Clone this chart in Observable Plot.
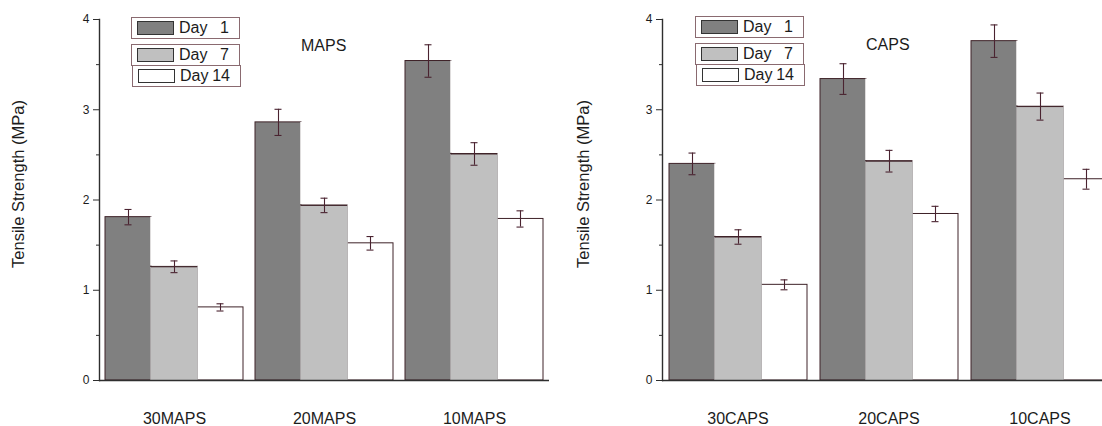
<!DOCTYPE html>
<html>
<head>
<meta charset="utf-8">
<script src="https://cdn.jsdelivr.net/npm/d3@7"></script>
<script src="https://cdn.jsdelivr.net/npm/@observablehq/plot@0.6"></script>
<style>
  body { margin: 0; background: #fff; }
  #wrap { position: relative; width: 1102px; height: 426px; overflow: hidden;
          font-family: "Liberation Sans", Arial, sans-serif; color: #1c1c1c; }
  .panel { position: absolute; top: 0; }
  .ylab { position: absolute; font-size: 16.5px; white-space: nowrap; line-height: 17px;
          transform: translate(-50%, -50%) rotate(-90deg); }
  .title { position: absolute; font-size: 16px; line-height: 16px; }
  .lg { position: absolute; width: 109px; height: 22px; box-sizing: border-box;
        border: 1px solid #8a6a70; background: #fff; }
  .sw { position: absolute; left: 5px; top: 3px; width: 37px; height: 14px;
        box-sizing: border-box; border: 1.5px solid #333; }
  .lt { position: absolute; left: 47px; top: 2px; font-size: 16px; line-height: 16px; }
  .ln { position: absolute; right: 10px; top: 2px; font-size: 16px; line-height: 16px; }
</style>
</head>
<body>
<div id="wrap"></div>
<script>
// ---- data ----
const days = ["Day 1", "Day 7", "Day 14"];
const mapsGroups = ["30MAPS", "20MAPS", "10MAPS"];
const capsGroups = ["30CAPS", "20CAPS", "10CAPS"];

const mapsDay1 = [1.81, 2.86, 3.54];
const mapsDay7 = [1.26, 1.94, 2.51];
const mapsDay14 = [0.81, 1.52, 1.79];
const mapsErr1 = [0.085, 0.145, 0.18];
const mapsErr7 = [0.065, 0.08, 0.125];
const mapsErr14 = [0.04, 0.075, 0.09];

const capsDay1 = [2.40, 3.34, 3.76];
const capsDay7 = [1.59, 2.43, 3.035];
const capsDay14 = [1.06, 1.845, 2.23];
const capsErr1 = [0.12, 0.17, 0.18];
const capsErr7 = [0.08, 0.12, 0.15];
const capsErr14 = [0.055, 0.085, 0.11];

const yTicks = [0, 1, 2, 3, 4];
const yMinorTicks = [0.5, 1.5, 2.5, 3.5];
const yLabel = "Tensile Strength (MPa)";

// ---- styles ----
const fills = ["#808080", "#c0c0c0", "#ffffff"];
const outline = "#3e2228";
const errColor = "#4a2330";
const axisColor = "#2e2e2e";

function panel(groups, vals, errs, marginLeft, width) {
  const rows = [];
  groups.forEach((g, i) => days.forEach((d, k) =>
    rows.push({group: g, day: d, value: vals[k][i], err: errs[k][i]})));
  const d7 = rows.filter(r => r.day === days[1]);
  const cover = groups.map((g, i) => ({group: g, day: days[1], lo: vals[1][i], hi: vals[0][i]}));
  return Plot.plot({
    width, height: 426,
    marginLeft, marginRight: 2, marginTop: 19, marginBottom: 46,
    style: {fontFamily: '"Liberation Sans", Arial, sans-serif', fontSize: "12px", color: "#1c1c1c", background: "transparent", overflow: "visible"},
    fx: {domain: groups, padding: 0, label: null},
    x: {domain: days, paddingInner: 0, paddingOuter: 0.113, axis: null},
    y: {domain: [0, 4]},
    color: {domain: days, range: fills},
    marks: [
      Plot.barY(rows, {fx: "group", x: "day", y: "value", fill: "day", stroke: outline, strokeWidth: 1}),
      Plot.barY(d7, {fx: "group", x: "day", y: "value", fill: fills[1], insetLeft: -0.8, insetRight: -0.8, insetTop: 0.7}),
      Plot.barY(cover, {fx: "group", x: "day", y1: "lo", y2: "hi", fill: "#ffffff", insetLeft: -0.8, insetBottom: 0.7}),
      Plot.tickY(d7, {fx: "group", x: "day", y: "value", stroke: outline, strokeWidth: 1}),
      Plot.ruleX(rows, {fx: "group", x: "day", y1: r => r.value - r.err, y2: r => r.value + r.err, stroke: errColor, strokeWidth: 1.1}),
      Plot.tickY(rows, {fx: "group", x: "day", y: r => r.value + r.err, stroke: errColor, strokeWidth: 1.1, insetLeft: 19.5, insetRight: 19.5}),
      Plot.tickY(rows, {fx: "group", x: "day", y: r => r.value - r.err, stroke: errColor, strokeWidth: 1.1, insetLeft: 19.5, insetRight: 19.5}),
      Plot.ruleY([0], {stroke: axisColor, strokeWidth: 1.4}),
      Plot.frame({anchor: "left", facetAnchor: "left", stroke: axisColor, strokeWidth: 1.4}),
      Plot.axisY({ticks: yTicks, tickSize: 6, tickPadding: 4, tickFormat: d => String(d), fontSize: 12, label: null, stroke: axisColor}),
      Plot.axisY({ticks: yMinorTicks, tickSize: 3, tickFormat: () => "", label: null, stroke: axisColor}),
      Plot.axisFx({anchor: "bottom", tickSize: 0, tickPadding: 32, fontSize: 16, label: null})
    ]
  });
}

const wrap = document.getElementById("wrap");

function place(el, left) {
  el.classList.add("panel");
  el.style.left = left + "px";
  wrap.appendChild(el);
}

place(panel(mapsGroups, [mapsDay1, mapsDay7, mapsDay14], [mapsErr1, mapsErr7, mapsErr14], 98, 551), 0);
place(panel(capsGroups, [capsDay1, capsDay7, capsDay14], [capsErr1, capsErr7, capsErr14], 111, 566), 551);

function addDiv(cls, text, css) {
  const d = document.createElement("div");
  d.className = cls;
  if (text != null) d.textContent = text;
  Object.assign(d.style, css);
  wrap.appendChild(d);
  return d;
}

// axis titles
addDiv("ylab", yLabel, {left: "18px", top: "184px"});
addDiv("ylab", yLabel, {left: "583px", top: "184px"});
// panel titles
addDiv("title", "MAPS", {left: "301px", top: "38px"});
addDiv("title", "CAPS", {left: "866px", top: "37px"});

// legends
function legend(x, y) {
  const tops = [y, y + 27, y + 48];
  const lefts = [x, x, x + 1];
  days.forEach((d, k) => {
    const box = addDiv("lg", null, {left: lefts[k] + "px", top: tops[k] + "px"});
    const sw = document.createElement("div");
    sw.className = "sw"; sw.style.background = fills[k];
    box.appendChild(sw);
    const [word, num] = d.split(" ");
    const t = document.createElement("div"); t.className = "lt"; t.textContent = word; box.appendChild(t);
    const n = document.createElement("div"); n.className = "ln"; n.textContent = num; box.appendChild(n);
  });
}
legend(131, 17);
legend(695, 16);
</script>
</body>
</html>
